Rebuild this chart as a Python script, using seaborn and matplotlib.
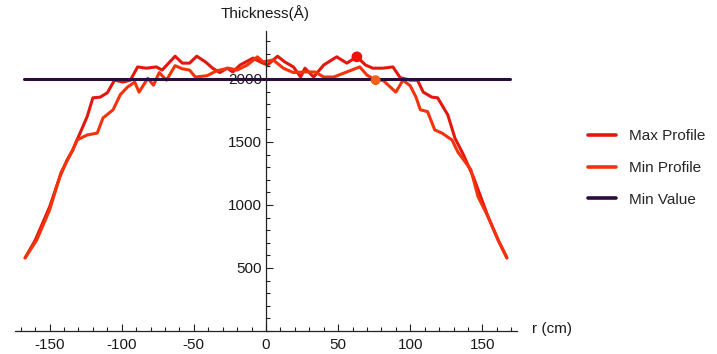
import matplotlib
matplotlib.use('Agg')
import matplotlib.pyplot as plt
import seaborn as sns
import pandas as pd
from matplotlib.ticker import MultipleLocator, FixedLocator

# ---- data ----
max_r = [-167, -160, -150, -143, -138, -134, -131, -124, -120, -115,
         -110, -105, -99, -94, -89, -83, -76, -72, -63, -58,
         -53, -48, -42, -37, -32, -27, -23, -18, -9, -4,
         1, 8, 13, 19, 24, 27, 33, 40, 49, 56,
         63, 69, 74, 81, 88, 93, 100, 105, 109, 115,
         119, 126, 131, 137, 144, 154, 161, 167]
max_t = [580, 720, 985, 1220, 1355, 1435, 1515, 1700, 1850, 1855,
         1890, 1990, 1975, 1990, 2095, 2085, 2095, 2070, 2180, 2125,
         2125, 2180, 2135, 2085, 2050, 2085, 2055, 2110, 2165, 2135,
         2110, 2180, 2135, 2095, 2015, 2085, 2015, 2110, 2175, 2125,
         2175, 2110, 2085, 2085, 2095, 2010, 1990, 1990, 1895, 1855,
         1850, 1715, 1530, 1395, 1215, 905, 720, 580]

min_r = [-167, -159, -150, -142, -134, -131, -124, -117, -113, -106,
         -101, -96, -91, -88, -82, -78, -74, -69, -63, -58,
         -53, -49, -41, -34, -26, -20, -13, -6, -2, 5,
         12, 19, 26, 34, 40, 47, 56, 65, 70, 76,
         81, 90, 95, 100, 104, 107, 112, 117, 122, 129,
         133, 142, 147, 154, 161, 167]
min_t = [580, 720, 960, 1260, 1435, 1515, 1555, 1570, 1690, 1755,
         1875, 1935, 1975, 1895, 2005, 1950, 2050, 1990, 2105, 2080,
         2070, 2015, 2025, 2065, 2085, 2070, 2110, 2175, 2135, 2150,
         2085, 2050, 2055, 2055, 2015, 2015, 2055, 2095, 2030, 1990,
         1990, 1895, 1990, 1945, 1855, 1755, 1740, 1595, 1570, 1515,
         1420, 1280, 1065, 905, 720, 580]

minval_r = [-168, 169]
minval_t = [2000, 2000]

max_point_r = [63]
max_point_t = [2175]
min_point_r = [76]
min_point_t = [1990]

series_names = ['Max Profile', 'Min Profile', 'Min Value']
series_colors = ['#e3170f', '#f2330b', '#2b0b3d']
x_ticks = [-150, -100, -50, 0, 50, 100, 150]
y_ticks = [500, 1000, 1500, 2000]
y_title = 'Thickness(Å)'
x_title = 'r (cm)'

# ---- build long-form table ----
df = pd.concat([
    pd.DataFrame({'r': max_r, 't': max_t, 'series': series_names[0]}),
    pd.DataFrame({'r': min_r, 't': min_t, 'series': series_names[1]}),
    pd.DataFrame({'r': minval_r, 't': minval_t, 'series': series_names[2]}),
], ignore_index=True)

sns.set_style('white')
plt.rcParams['font.family'] = ['Liberation Sans', 'DejaVu Sans']
plt.rcParams['axes.unicode_minus'] = False
plt.rcParams['lines.solid_joinstyle'] = 'round'
plt.rcParams['lines.solid_capstyle'] = 'round'

fig = plt.figure(figsize=(7.17, 3.54), dpi=100)
ax = fig.add_axes([15 / 717, 1 - 331 / 354, 502 / 717, 300 / 354])

sns.lineplot(data=df, x='r', y='t', hue='series', hue_order=series_names,
             palette=dict(zip(series_names, series_colors)), sort=False,
             estimator=None, linewidth=2.2, ax=ax)
sns.scatterplot(x=max_point_r, y=max_point_t, color='#f0100c', s=60,
                edgecolor='none', zorder=5, ax=ax)
sns.scatterplot(x=min_point_r, y=min_point_t, color='#f2601c', s=50,
                edgecolor='none', zorder=5, ax=ax)

ax.set_xlim(-174, 174)
ax.set_ylim(0, 2380)
ax.set_xlabel('')
ax.set_ylabel('')

for s in ['top', 'right']:
    ax.spines[s].set_visible(False)
ax.spines['left'].set_position(('data', 0))
ax.spines['bottom'].set_position(('data', 0))
for s in ['left', 'bottom']:
    ax.spines[s].set_color('#222222')
    ax.spines[s].set_linewidth(0.9)

ax.xaxis.set_major_locator(FixedLocator(x_ticks))
ax.yaxis.set_major_locator(FixedLocator(y_ticks))
ax.xaxis.set_minor_locator(MultipleLocator(10))
ax.yaxis.set_minor_locator(MultipleLocator(100))
ax.set_xticklabels([str(v) for v in x_ticks])
ax.set_yticklabels([str(v) for v in y_ticks])
ax.tick_params(axis='both', which='both', direction='in', bottom=True, left=True,
               color='#222222', width=0.8, labelsize=11, labelcolor='#1a1a1a')
ax.tick_params(axis='both', which='major', length=5)
ax.tick_params(axis='both', which='minor', length=3)
ax.tick_params(axis='x', which='major', pad=5)
ax.tick_params(axis='y', which='major', pad=3)

fig.text(265 / 717, 1 - 13 / 354, y_title, ha='center', va='center',
         fontsize=11, color='#1a1a1a')
fig.text(532 / 717, 1 - 329 / 354, x_title, ha='left', va='center',
         fontsize=11, color='#1a1a1a')

handles, labels = ax.get_legend_handles_labels()
leg = ax.legend(handles[:3], labels[:3], loc='center left',
                bbox_to_anchor=(588 / 717, 1 - 168 / 354), bbox_transform=fig.transFigure,
                frameon=False, handlelength=1.8, handletextpad=0.9, labelspacing=1.15,
                borderpad=0, borderaxespad=0, fontsize=11)
for line in leg.get_lines():
    line.set_linewidth(2.6)

fig.savefig('out.png', dpi=100)
